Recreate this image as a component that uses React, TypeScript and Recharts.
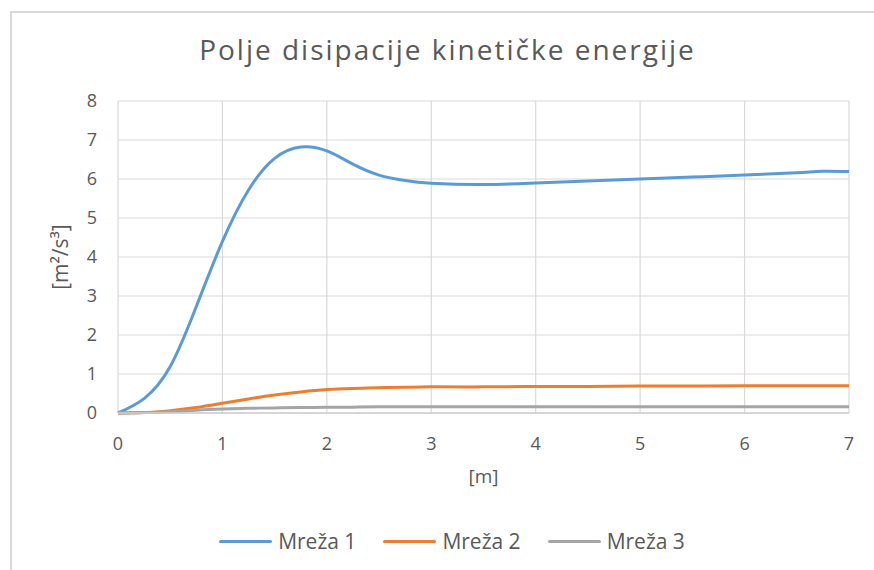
import { LineChart, Line, XAxis, YAxis, CartesianGrid, Legend } from 'recharts';

const positions = [0, 0.25, 0.5, 0.75, 1, 1.25, 1.5, 1.75, 2, 2.25, 2.5, 2.75, 3, 3.5, 4, 4.5, 5, 5.5, 6, 6.5, 6.75, 7];
const mreza1 = [0, 0.37, 1.19, 2.73, 4.4, 5.72, 6.53, 6.82, 6.72, 6.38, 6.1, 5.96, 5.89, 5.86, 5.9, 5.95, 6.0, 6.05, 6.1, 6.16, 6.2, 6.19];
const mreza2 = [0, 0.01, 0.06, 0.14, 0.25, 0.36, 0.46, 0.54, 0.6, 0.63, 0.65, 0.66, 0.67, 0.67, 0.68, 0.68, 0.69, 0.69, 0.7, 0.7, 0.7, 0.7];
const mreza3 = [0, 0.01, 0.03, 0.07, 0.1, 0.12, 0.13, 0.14, 0.15, 0.15, 0.16, 0.16, 0.16, 0.16, 0.16, 0.16, 0.16, 0.16, 0.16, 0.16, 0.16, 0.16];
const xTicks = [0, 1, 2, 3, 4, 5, 6, 7];
const yTicks = [0, 1, 2, 3, 4, 5, 6, 7, 8];

const data = positions.map((x, i) => ({ x, m1: mreza1[i], m2: mreza2[i], m3: mreza3[i] }));

const FONT = '"Open Sans", sans-serif';
const TEXT = '#595959';

const LegendContent = ({ payload }: any) => (
  <div style={{ display: 'flex', justifyContent: 'center', gap: 27, fontFamily: FONT, fontSize: 21, color: TEXT }}>
    {(payload || []).map((p: any) => (
      <div key={p.value} style={{ display: 'flex', alignItems: 'center', gap: 6 }}>
        <span style={{ display: 'inline-block', width: 53, height: 3, borderRadius: 2, background: p.color }} />
        <span>{p.value}</span>
      </div>
    ))}
  </div>
);

export default function App() {
  return (
    <div style={{ position: 'absolute', left: 0, top: 0, width: 874, height: 570, background: '#fff', overflow: 'hidden' }}>
      <div style={{ position: 'absolute', left: 10, top: 11, width: 880, height: 580, borderLeft: '2px solid #d9d9d9', borderTop: '2px solid #d9d9d9' }} />
      <div style={{ position: 'absolute', left: 0, top: 30, width: 895, textAlign: 'center', fontFamily: FONT, fontSize: 28, letterSpacing: 2, color: TEXT }}>
        Polje disipacije kinetičke energije
      </div>
      <LineChart width={874} height={570} data={data} margin={{ top: 101, right: 25, left: 0, bottom: 0 }} style={{ position: 'absolute', left: 0, top: 0 }}>
        <CartesianGrid stroke="#d9d9d9" strokeWidth={1.2} />
        <XAxis
          dataKey="x"
          type="number"
          domain={[0, 7]}
          ticks={xTicks}
          height={157}
          tickLine={false}
          tickMargin={18}
          axisLine={{ stroke: '#cfcfcf', strokeWidth: 1.5 }}
          tick={{ fill: TEXT, fontSize: 18, fontFamily: FONT }}
          label={{ value: '[m]', position: 'insideTop', offset: 57, fill: TEXT, fontSize: 19, fontFamily: FONT }}
        />
        <YAxis
          type="number"
          domain={[0, 8]}
          ticks={yTicks}
          width={118}
          tickLine={false}
          tickMargin={15}
          axisLine={false}
          tick={{ fill: TEXT, fontSize: 18, fontFamily: FONT }}
          label={{
            value: '[m²/s³]',
            angle: -90,
            position: 'insideLeft',
            offset: 61,
            style: { textAnchor: 'middle' },
            fill: TEXT,
            fontSize: 21,
            fontFamily: FONT,
          }}
        />
        <Legend
          verticalAlign="middle"
          align="center"
          layout="horizontal"
          content={<LegendContent />}
          wrapperStyle={{ top: 527, left: 15, width: 874 }}
        />
        <Line name="Mreža 1" dataKey="m1" type="natural" stroke="#5B9BD5" strokeWidth={3} dot={false} isAnimationActive={false} />
        <Line name="Mreža 2" dataKey="m2" type="natural" stroke="#ED7D31" strokeWidth={3} dot={false} isAnimationActive={false} />
        <Line name="Mreža 3" dataKey="m3" type="natural" stroke="#A5A5A5" strokeWidth={3} dot={false} isAnimationActive={false} />
      </LineChart>
    </div>
  );
}
